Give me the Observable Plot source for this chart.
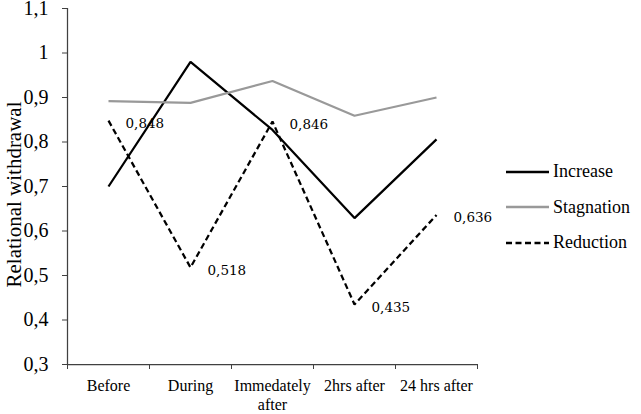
<!DOCTYPE html>
<html><head><meta charset="utf-8">
<script src="https://cdn.jsdelivr.net/npm/d3@7"></script>
<script src="https://cdn.jsdelivr.net/npm/@observablehq/plot@0.6"></script>
<style>
body{margin:0;background:#fff;}
#wrap{position:relative;width:641px;height:414px;}
#legend{position:absolute;left:506px;top:154px;font-family:"Liberation Serif","Times New Roman",serif;font-size:18px;color:#000;}
.row{display:flex;align-items:center;height:35.5px;white-space:nowrap;}
.row svg{margin-right:4px;display:block;}
</style></head><body><div id="wrap"><div id="legend"></div></div>
<script>
const categories = ["Before", "During", "Immedately\nafter", "2hrs after", "24 hrs after"];
const increase = [0.700, 0.980, 0.827, 0.629, 0.806];
const stagnation = [0.892, 0.888, 0.937, 0.859, 0.900];
const reduction = [0.848, 0.518, 0.846, 0.435, 0.636];
const reductionLabels = ["0,848", "0,518", "0,846", "0,435", "0,636"];
const yTicks = [0.3, 0.4, 0.5, 0.6, 0.7, 0.8, 0.9, 1.0, 1.1];
const yLabel = "Relational withdrawal";
const seriesNames = ["Increase", "Stagnation", "Reduction"];
const seriesStyles = [
  {stroke: "#000", dash: null},
  {stroke: "#999", dash: null},
  {stroke: "#000", dash: "6,3.5"}
];

const idx = categories.map((_, i) => i);
const bounds = d3.range(categories.length + 1).map(i => i - 0.5);
const toRows = vals => vals.map((v, i) => ({i, v}));
const fmt = d => String(+d.toFixed(1)).replace(".", ",");
const seriesData = [increase, stagnation, reduction];

const lineMarks = seriesData.map((vals, k) => Plot.line(toRows(vals), {
  x: "i", y: "v", stroke: seriesStyles[k].stroke, strokeWidth: 2.25,
  strokeDasharray: seriesStyles[k].dash, strokeLinecap: "butt", strokeLinejoin: "miter"
}));

const plot = Plot.plot({
  width: 641, height: 414,
  marginLeft: 67, marginRight: 164, marginTop: 8, marginBottom: 50,
  style: {fontFamily: "'Liberation Serif', 'Times New Roman', serif", background: "#fff", color: "#000", overflow: "visible"},
  x: {type: "linear", domain: [-0.5, categories.length - 0.5]},
  y: {domain: [yTicks[0], yTicks[yTicks.length - 1]]},
  marks: [
    Plot.axisY({ticks: yTicks, tickFormat: fmt, tickSize: 5, tickPadding: 14, fontSize: 20, stroke: "#404040", label: null}),
    Plot.axisX({ticks: idx, tickFormat: i => categories[i], tickSize: 0, tickPadding: 13, fontSize: 16, lineHeight: 1.2, label: null}),
    Plot.axisX({ticks: bounds, tickFormat: () => "", tickSize: 5, stroke: "#404040", label: null}),
    Plot.ruleX([bounds[0]], {stroke: "#404040", strokeWidth: 1.25}),
    Plot.ruleY([yTicks[0]], {stroke: "#404040", strokeWidth: 1.25}),
    ...lineMarks,
    Plot.text(toRows(reduction), {x: "i", y: "v", text: d => reductionLabels[d.i], dx: 17, dy: 3,
      textAnchor: "start", fontFamily: "'DejaVu Serif', serif", fontSize: 13.5, fill: "#000"}),
    Plot.text([yLabel], {text: d => d, frameAnchor: "left", textAnchor: "middle", lineAnchor: "middle",
      dx: -53, dy: 8, rotate: -90, fontSize: 21, fill: "#000"})
  ]
});
document.getElementById("wrap").prepend(plot);

const legend = document.getElementById("legend");
seriesNames.forEach((name, k) => {
  const row = document.createElement("div");
  row.className = "row";
  const st = seriesStyles[k];
  row.innerHTML = `<svg width="43" height="6"><line x1="0" x2="43" y1="3" y2="3" stroke="${st.stroke}" stroke-width="2.5" ${st.dash ? `stroke-dasharray="${st.dash}"` : ""}/></svg><span>${name}</span>`;
  legend.appendChild(row);
});
</script>
</body></html>
